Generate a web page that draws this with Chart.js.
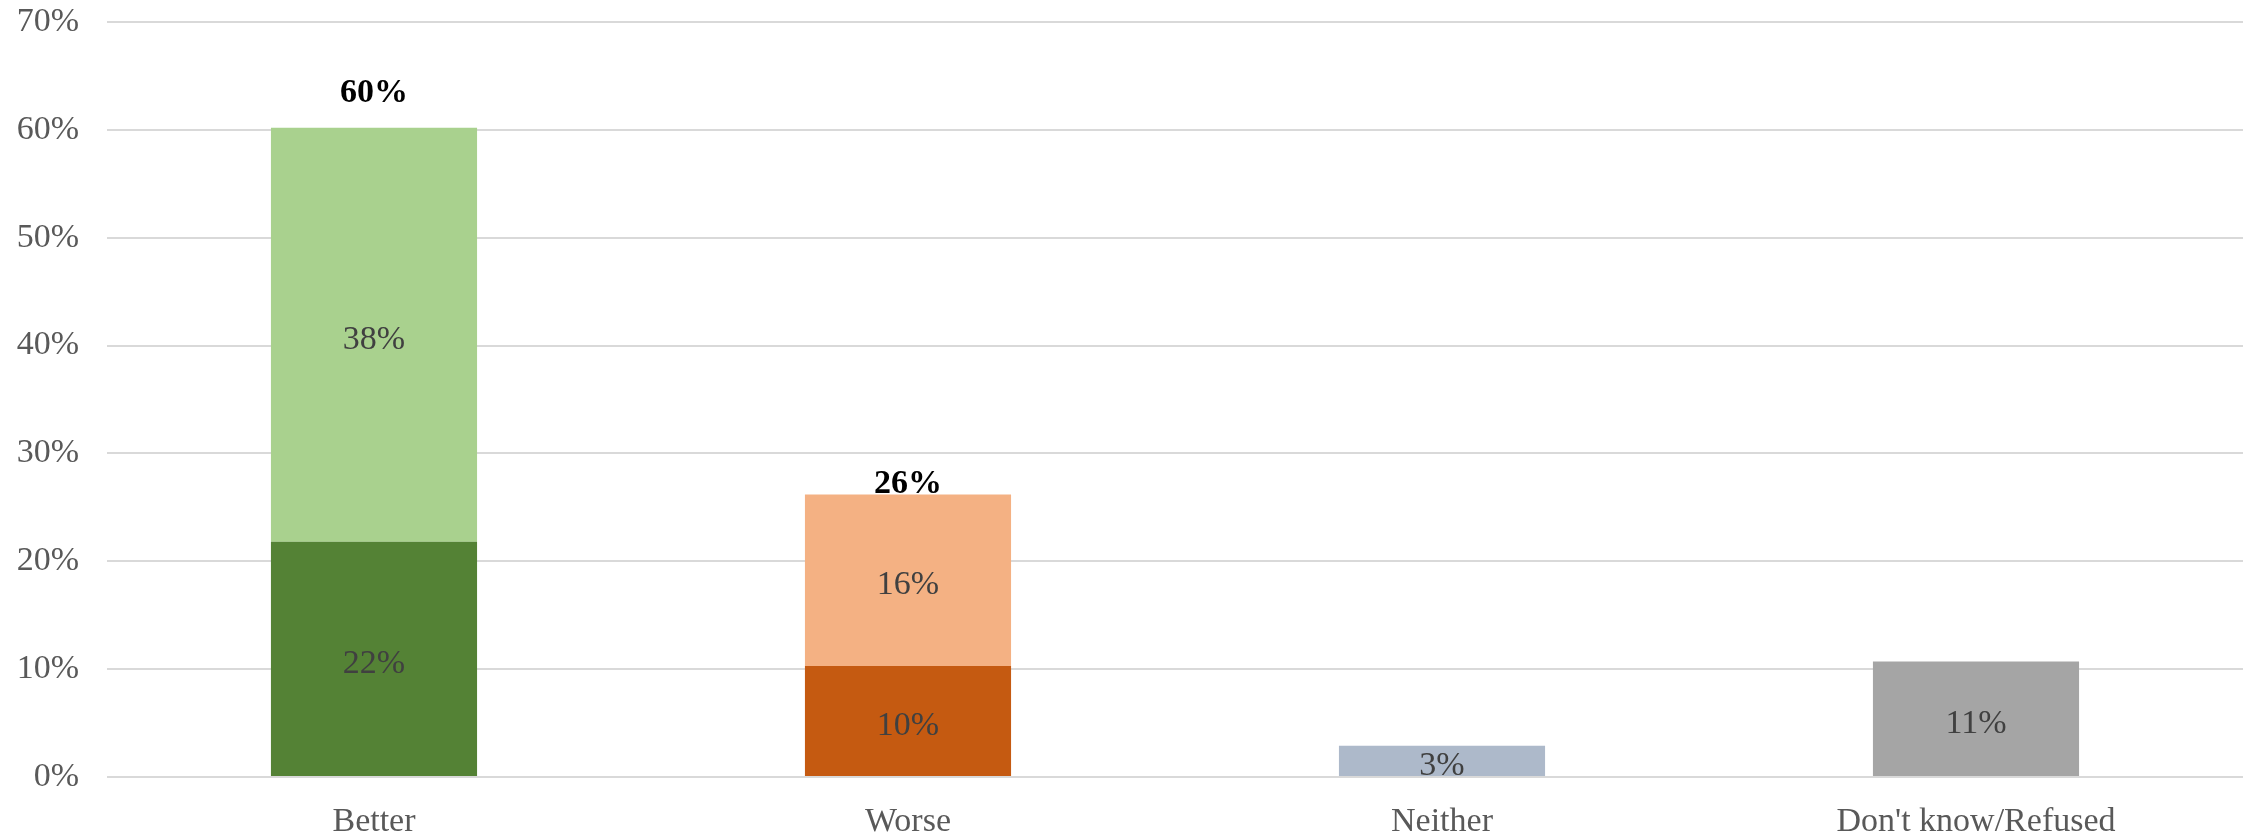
<!DOCTYPE html>
<html>
<head>
<meta charset="utf-8">
<script src="https://cdn.jsdelivr.net/npm/chart.js@4/dist/chart.umd.min.js"></script>
<style>
  html, body { margin: 0; padding: 0; background: #ffffff; }
  canvas { display: block; }
</style>
</head>
<body>
<canvas id="c" width="2252" height="836"></canvas>
<script>
const categories = ["Better", "Worse", "Neither", "Don't know/Refused"];
const baseValues = [21.8, 10.3, 2.9, 10.7];     // lower / single segment
const upperValues = [38.4, 15.9, null, null];   // upper segment
const totalLabels = ["60%", "26%", null, null];
const yTicks = [0, 10, 20, 30, 40, 50, 60, 70];

const baseColors = ["#548235", "#C55A11", "#ADB9CA", "#A5A5A5"];
const upperColors = ["#A9D18E", "#F4B183", "#F4B183", "#A5A5A5"];
const totalLift = [26, 1, 0, 0];

const FONT = "'Liberation Serif', 'Times New Roman', serif";
const FS = 34;

const labelPlugin = {
  id: 'segLabels',
  afterDatasetsDraw(chart) {
    const ctx = chart.ctx;
    ctx.save();
    ctx.textAlign = 'center';
    ctx.textBaseline = 'middle';
    ctx.font = FS + "px " + FONT;
    ctx.fillStyle = '#404040';
    chart.data.datasets.forEach((ds, di) => {
      const meta = chart.getDatasetMeta(di);
      meta.data.forEach((el, i) => {
        const v = ds.data[i];
        if (v === null || v === undefined) return;
        const { x, y, base } = el.getProps(['x', 'y', 'base'], true);
        ctx.fillText(Math.round(v) + '%', x, (y + base) / 2 + 5);
      });
    });
    ctx.font = "bold " + FS + "px " + FONT;
    ctx.fillStyle = '#000000';
    ctx.textBaseline = 'alphabetic';
    const topMeta = chart.getDatasetMeta(1);
    totalLabels.forEach((t, i) => {
      if (!t) return;
      const el = topMeta.data[i];
      const { x, y } = el.getProps(['x', 'y'], true);
      ctx.fillText(t, x, y - totalLift[i]);
    });
    ctx.restore();
  }
};

new Chart(document.getElementById('c'), {
  type: 'bar',
  data: {
    labels: categories,
    datasets: [
      { label: 'base', data: baseValues, backgroundColor: baseColors, borderWidth: 0 },
      { label: 'upper', data: upperValues, backgroundColor: upperColors, borderWidth: 0 }
    ]
  },
  options: {
    responsive: false,
    animation: false,
    devicePixelRatio: 1,
    layout: { padding: { top: 22, right: 9, left: 0, bottom: 0 } },
    plugins: { legend: { display: false }, tooltip: { enabled: false } },
    datasets: { bar: { categoryPercentage: 1.0, barPercentage: 0.386 } },
    scales: {
      x: {
        stacked: true,
        grid: { display: false, drawTicks: false },
        border: { display: false },
        ticks: { color: '#595959', font: { family: FONT, size: FS }, padding: 25, maxRotation: 0 },
        afterFit(scale) { scale.height = 59; scale.paddingLeft = 0; scale.paddingRight = 0; }
      },
      y: {
        stacked: true,
        min: 0, max: 70,
        afterBuildTicks(scale) { scale.ticks = yTicks.map(v => ({ value: v })); },
        grid: { color: '#D9D9D9', lineWidth: 2, drawTicks: false },
        border: { display: false },
        ticks: { color: '#595959', font: { family: FONT, size: FS }, padding: 28, callback: v => v + '%' },
        afterFit(scale) { scale.width = 107; scale.paddingTop = 0; scale.paddingBottom = 0; }
      }
    }
  },
  plugins: [labelPlugin]
});
</script>
</body>
</html>
